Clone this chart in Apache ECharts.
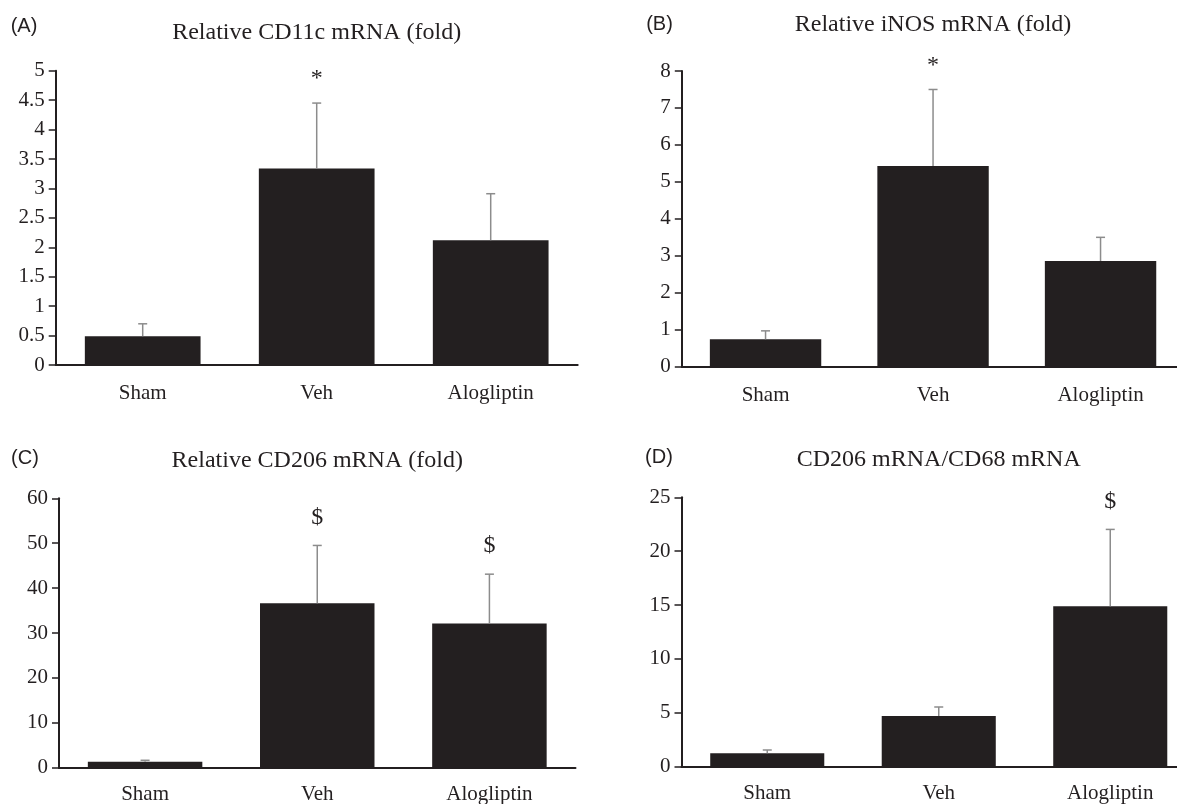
<!DOCTYPE html>
<html>
<head>
<meta charset="utf-8">
<style>
html,body{margin:0;padding:0;background:#fff;}
#chart{width:1177px;height:804px;}
</style>
<script src="https://cdn.jsdelivr.net/npm/echarts@6/dist/echarts.min.js"></script>
</head>
<body>
<div id="chart"></div>
<script>
// ---------------- data ----------------
const categories = ['Sham', 'Veh', 'Alogliptin'];

const panelLetters = ['(A)', '(B)', '(C)', '(D)'];
const panelTitles = [
  'Relative CD11c mRNA (fold)',
  'Relative iNOS mRNA (fold)',
  'Relative CD206 mRNA (fold)',
  'CD206 mRNA/CD68 mRNA'
];

// means
const cd11cMean = [0.49, 3.34, 2.12];
const inosMean  = [0.74, 5.43, 2.86];
const cd206Mean = [1.34, 36.6, 32.1];
const ratioMean = [1.24, 4.70, 14.88];

// error (SEM, drawn upward)
const cd11cErr = [0.21, 1.11, 0.79];
const inosErr  = [0.23, 2.07, 0.64];
const cd206Err = [0.31, 12.9, 11.0];
const ratioErr = [0.31, 0.84, 7.14];

// significance marks
const cd11cSig = ['', '*', ''];
const inosSig  = ['', '*', ''];
const cd206Sig = ['', '$', '$'];
const ratioSig = ['', '', '$'];

// y axis scales
const yMax      = [5, 8, 60, 25];
const yInterval = [0.5, 1, 10, 5];

// ---------------- layout ----------------
const INK = '#231f20';
const ERR = '#8c8c8c';
const SERIF = '"Liberation Serif", "Times New Roman", serif';
const SANS = '"Liberation Sans", Arial, sans-serif';

const grids = [
  {left: 55.7, top: 70.7, width: 522, height: 294.3},
  {left: 681.8, top: 71, width: 502.5, height: 295.7},
  {left: 59, top: 498.3, width: 516.5, height: 269.4},
  {left: 681.5, top: 497.3, width: 514.5, height: 269.4}
];
const labelMargins = [18, 18, 16, 16];
const letterPos = [[24, 26], [659.5, 24], [25, 458], [659, 457]];
const titleY = [33, 25, 461, 460];

const means = [cd11cMean, inosMean, cd206Mean, ratioMean];
const errs = [cd11cErr, inosErr, cd206Err, ratioErr];
const sigs = [cd11cSig, inosSig, cd206Sig, ratioSig];

const option = {
  backgroundColor: '#fff',
  animation: false,
  grid: grids.map(g => Object.assign({containLabel: false, outerBoundsMode: 'none'}, g)),
  xAxis: grids.map((g, i) => ({
    type: 'category',
    gridIndex: i,
    data: categories,
    axisLine: {show: true, lineStyle: {color: INK, width: 2}},
    axisTick: {show: false},
    axisLabel: {color: INK, fontFamily: SERIF, fontSize: 21, margin: labelMargins[i]},
    splitLine: {show: false}
  })),
  yAxis: grids.map((g, i) => ({
    type: 'value',
    gridIndex: i,
    min: 0,
    max: yMax[i],
    interval: yInterval[i],
    axisLine: {show: true, lineStyle: {color: INK, width: 2}},
    axisTick: {show: true, length: 7, lineStyle: {color: INK, width: 1.5}},
    axisLabel: {color: INK, fontFamily: SERIF, fontSize: 21, margin: 11},
    splitLine: {show: false}
  })),
  graphic: [],
  series: []
};

grids.forEach((g, i) => {
  option.graphic.push({
    type: 'text',
    x: g.left + (g.width) / 2,
    y: titleY[i],
    style: {
      text: panelTitles[i],
      font: '24px ' + SERIF,
      fill: INK,
      textAlign: 'center',
      textVerticalAlign: 'middle'
    }
  });
  option.graphic.push({
    type: 'text',
    x: letterPos[i][0],
    y: letterPos[i][1],
    style: {
      text: panelLetters[i],
      font: '20px ' + SANS,
      fill: INK,
      textAlign: 'center',
      textVerticalAlign: 'middle'
    }
  });

  option.series.push({
    type: 'bar',
    xAxisIndex: i,
    yAxisIndex: i,
    data: means[i],
    barCategoryGap: '33.5%',
    itemStyle: {color: INK},
    z: 2
  });

  const m = means[i], e = errs[i], s = sigs[i];
  option.series.push({
    type: 'custom',
    xAxisIndex: i,
    yAxisIndex: i,
    z: 3,
    data: m.map((v, k) => [k, v, v + e[k]]),
    renderItem: function (params, api) {
      const k = params.dataIndex;
      const base = api.coord([api.value(0), api.value(1)]);
      const top = api.coord([api.value(0), api.value(2)]);
      const children = [
        {type: 'line', shape: {x1: base[0], y1: base[1], x2: top[0], y2: top[1]},
         style: {stroke: ERR, lineWidth: 1.5}},
        {type: 'line', shape: {x1: top[0] - 4.5, y1: top[1], x2: top[0] + 4.5, y2: top[1]},
         style: {stroke: ERR, lineWidth: 1.5}}
      ];
      if (s[k]) {
        const isStar = s[k] === '*';
        children.push({
          type: 'text',
          x: top[0],
          y: top[1] - (isStar ? 24 : 28),
          style: {
            text: s[k],
            font: (isStar ? '24px ' : '24px ') + SERIF,
            fill: INK,
            textAlign: 'center',
            textVerticalAlign: 'middle'
          }
        });
      }
      return {type: 'group', children: children};
    }
  });
});

const chart = echarts.init(document.getElementById('chart'), null, {renderer: 'canvas'});
chart.setOption(option);
</script>
</body>
</html>
